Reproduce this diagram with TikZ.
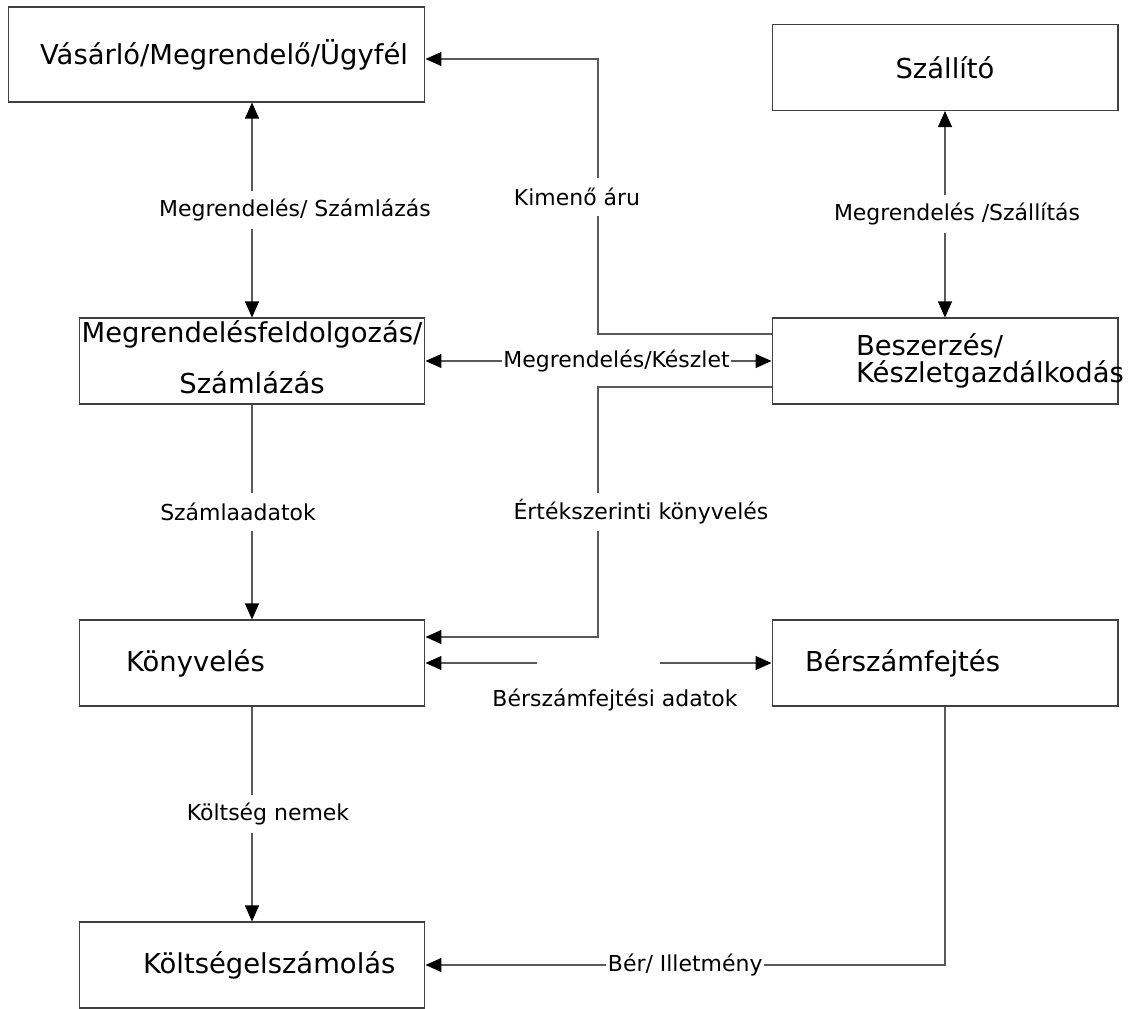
\documentclass[tikz,border=0pt]{standalone}
\usepackage{fontspec}
\setmainfont{DejaVu Sans}
\usetikzlibrary{arrows.meta,positioning}
\newcommand{\boxfont}{\fontsize{15.6}{18}\selectfont}
\newcommand{\lblfont}{\fontsize{12.5}{15}\selectfont}

\begin{document}
\begin{tikzpicture}[
    x=0.02cm, y=-0.02cm,
    every node/.style={font=\lblfont},
    box/.style={draw=black!75, line width=0.6pt, minimum width=6.92cm, minimum height=1.72cm,
        text width=6.92cm, inner xsep=0pt, inner ysep=0pt, font=\boxfont},
    flow/.style={draw=black!65, line width=0.6pt, -{Triangle[length=0.32cm, width=0.28cm, color=black]}},
    flowboth/.style={flow, {Triangle[length=0.32cm, width=0.28cm, color=black]}-{Triangle[length=0.32cm, width=0.28cm, color=black]}},
    lbl/.style={fill=white, inner xsep=1pt, inner ysep=0pt, minimum height=0.76cm}
]
\useasboundingbox (0,0) rectangle (1133,1008);

\node[box, align=center, text width=8.34cm, minimum width=8.34cm, minimum height=1.9cm] (vasarlo) at (216.5,54.5) {\hspace*{0.3cm}Vásárló/Megrendelő/Ügyfél};
\node[box, align=center] (szallito) at (945,67.5) {Szállító};
\node[box, align=center] (megrend) at (252,361) {\mbox{Megrendelésfeldolgozás/}\\[11pt]Számlázás\\[-14pt]\mbox{}};
\node[box, align=left] (beszerz) at (945,361) {\hspace*{1.68cm}Beszerzés/\\[-3pt]\hspace*{1.68cm}\mbox{Készletgazdálkodás}};
\node[box, align=left] (konyv) at (252,663) {\hspace*{0.94cm}Könyvelés};
\node[box, align=left] (berszam) at (945,663) {\hspace*{0.66cm}Bérszámfejtés};
\node[box, align=left] (koltseg) at (252,965) {\hspace*{1.28cm}Költségelszámolás};

\draw[flowboth] (megrend.north) -- (megrend.north |- vasarlo.south) node[lbl, midway, xshift=0.86cm] {Megrendelés/ Számlázás};

\coordinate (kimeno) at (598,59);
\draw[flow] ([yshift=0.54cm]beszerz.west) -| (kimeno) node[lbl, pos=0.75, xshift=-0.42cm] {Kimenő áru} -- (kimeno -| vasarlo.east);

\draw[flowboth] (megrend.east) -- (beszerz.west) node[lbl, midway, xshift=0.36cm] {Megrendelés/Készlet};

\coordinate (ertek) at (598,637);
\draw[flow] ([yshift=-0.52cm]beszerz.west) -| (ertek) node[lbl, pos=0.75, xshift=0.86cm] {Értékszerinti könyvelés} -- (ertek -| konyv.east);

\draw[flowboth] (beszerz.north) -- (szallito.south) node[lbl, midway, xshift=0.24cm] {Megrendelés /Szállítás};

\draw[flow] (megrend.south) -- (konyv.north) node[lbl, midway, xshift=-0.28cm] {Számlaadatok};

\coordinate (bergapl) at (537,663);
\coordinate (bergapr) at (660,663);
\draw[flow] (bergapl) -- (bergapl -| konyv.east);
\draw[flow] (bergapr) -- (bergapr -| berszam.west);
\node (beradat) at (615,700) {Bérszámfejtési adatok};

\draw[flow] (konyv.south) -- (koltseg.north) node[lbl, midway, xshift=0.32cm] {Költség nemek};

\draw[flow] (berszam.south) |- (koltseg.east) node[lbl, pos=0.75] {Bér/ Illetmény};
\end{tikzpicture}
\end{document}
